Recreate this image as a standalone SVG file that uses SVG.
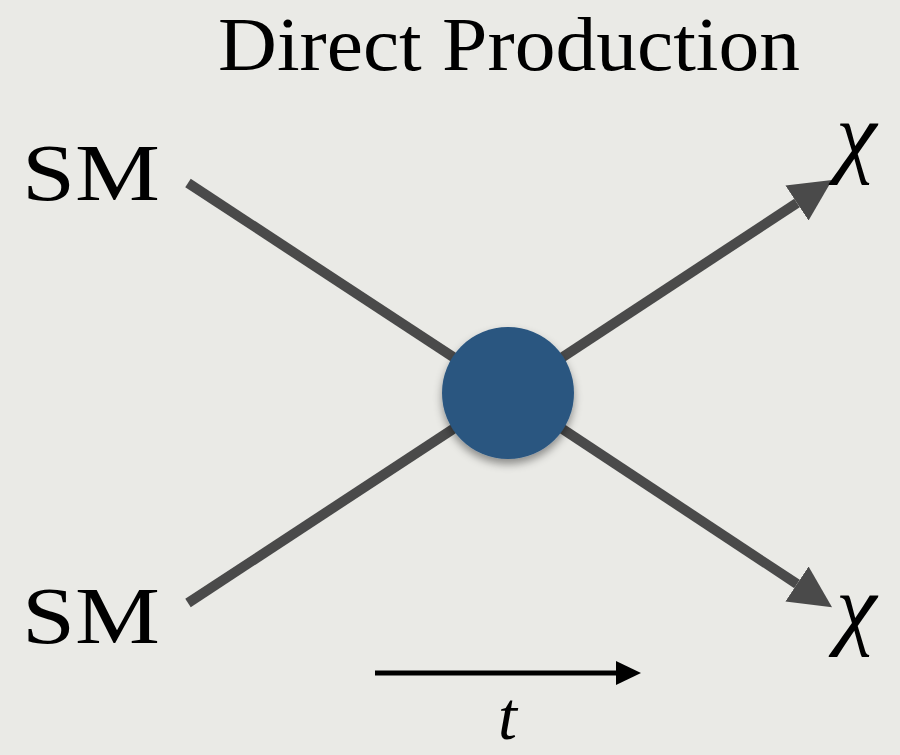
<svg xmlns="http://www.w3.org/2000/svg" width="900" height="755" viewBox="0 0 900 755">
<defs>
<style>
.lbl{font-family:"Liberation Serif","DejaVu Serif",serif;fill:#000}
.it{font-style:italic}
.prop{stroke:#4a4a4a;stroke-width:10;fill:none}
</style>
<marker id="ah" markerUnits="userSpaceOnUse" markerWidth="46" markerHeight="46" viewBox="0 -23 46 46" refX="0" refY="0" orient="auto">
<path d="M0,-21 L42,0 L0,21 Z" fill="#4a4a4a"/>
</marker>
<filter id="sh" x="-30%" y="-30%" width="160%" height="170%">
<feDropShadow dx="0" dy="5" stdDeviation="4" flood-color="#000" flood-opacity="0.4"/>
</filter>
</defs>
<rect width="900" height="755" fill="#eaeae6"/>
<text class="lbl" x="218" y="70" font-size="76" textLength="582" lengthAdjust="spacingAndGlyphs">Direct Production</text>
<g id="connectors">
<line class="prop" x1="188" y1="183" x2="508" y2="393"/>
<line class="prop" x1="188" y1="603" x2="508" y2="393"/>
<line class="prop" x1="508" y1="393" x2="797" y2="203" marker-end="url(#ah)"/>
<line class="prop" x1="508" y1="393" x2="797" y2="584" marker-end="url(#ah)"/>
</g>
<g id="vertex">
<circle cx="508" cy="393" r="66" fill="#2a5680" filter="url(#sh)"/>
</g>
<g id="sm-top"><text class="lbl" x="22" y="200" font-size="80" textLength="138" lengthAdjust="spacingAndGlyphs">SM</text></g>
<g id="sm-bottom"><text class="lbl" x="22" y="643" font-size="80" textLength="138" lengthAdjust="spacingAndGlyphs">SM</text></g>
<g id="chi-top"><text class="lbl it" x="836" y="166" font-size="92">χ</text></g>
<g id="chi-bottom"><text class="lbl it" x="836" y="638" font-size="92">χ</text></g>
<g id="time">
<line x1="375" y1="673" x2="617" y2="673" stroke="#000" stroke-width="5"/>
<polygon points="616,661 641,673 616,685" fill="#000"/>
<text class="lbl it" x="498" y="739" font-size="68">t</text>
</g>
</svg>
